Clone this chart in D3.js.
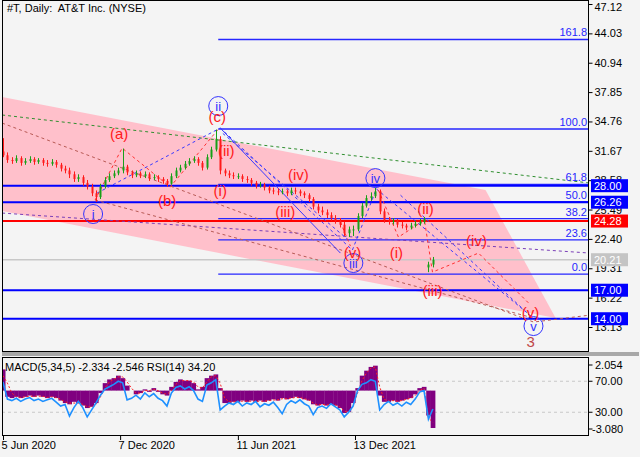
<!DOCTYPE html>
<html><head><meta charset="utf-8">
<script src="https://cdn.jsdelivr.net/npm/d3@7"></script>
<style>
body{margin:0;background:#f4f4f4}
svg{display:block}
text{font-family:Tahoma,"Liberation Sans",Arial,sans-serif}
</style>
</head><body>
<svg id="c" width="640" height="457"></svg>
<script>
// ---------- DATA ----------
const startDate = new Date(2020, 5, 5);
const opens = [31.6,31.2,30.7,30.6,30.9,30.4,30.6,30.8,30.5,30.7,
30.4,30.3,30.5,30.2,29.8,29.6,29.2,28.7,28.9,28.3,
27.9,27.2,26.8,27.9,28.6,29.0,29.3,29.6,30.0,29.4,
29.1,29.3,29.0,29.2,28.8,28.9,28.7,28.5,28.2,29.0,
29.6,29.9,30.3,30.6,30.8,30.4,29.9,31.0,31.8,32.9,
29.6,29.3,29.1,29.0,29.0,28.7,28.6,28.3,28.0,28.1,
27.8,27.5,27.4,27.3,27.4,27.2,27.5,27.4,27.2,27.0,
26.6,25.8,25.4,25.2,24.9,24.6,24.3,23.9,23.0,23.4,
23.4,24.8,25.9,26.7,26.9,27.4,25.3,24.4,24.2,24.3,
23.9,23.8,23.6,23.8,24.0,24.2,19.4,19.7];
const highs = [33.0,31.5,31.0,31.2,31.1,30.9,31.1,31.0,30.9,30.9,
30.7,30.8,30.7,30.4,30.1,29.9,29.5,29.2,29.1,28.6,
28.2,27.5,28.2,28.9,29.3,29.6,29.9,31.9,30.2,29.6,
29.6,29.5,29.5,29.4,29.2,29.1,28.9,28.7,29.3,29.9,
30.2,30.6,30.9,31.1,31.0,30.6,31.3,32.1,33.9,33.2,
29.8,29.6,29.4,29.3,29.2,29.0,28.8,28.5,28.4,28.3,
28.0,27.8,27.7,27.7,27.6,27.8,27.8,27.6,27.4,27.2,
26.8,26.1,25.8,25.5,25.2,24.9,24.6,24.2,23.7,23.8,
25.1,26.2,27.0,27.3,27.8,27.6,25.6,24.7,24.6,24.5,
24.2,24.0,24.1,24.3,24.5,24.7,20.0,20.5];
const lows = [31.0,30.4,30.3,30.4,30.1,30.2,30.4,30.2,30.3,30.1,
30.0,30.1,29.9,29.5,29.3,28.8,28.4,28.4,28.0,27.6,
26.9,26.3,26.6,27.7,28.4,28.8,29.1,29.3,29.1,28.8,
28.9,28.8,28.8,28.5,28.6,28.4,28.2,27.9,28.1,28.8,
29.4,29.7,30.1,30.4,30.1,29.6,29.7,30.8,31.6,29.2,
29.0,28.8,28.7,28.7,28.4,28.3,28.0,27.7,27.8,27.5,
27.2,27.1,27.0,27.1,26.9,27.0,27.1,26.9,26.7,26.3,
25.5,25.1,24.9,24.6,24.3,24.0,23.6,22.7,22.6,22.7,
23.2,24.6,25.7,26.4,26.7,25.0,24.1,23.9,23.9,23.6,
23.5,23.3,23.4,23.6,23.8,24.0,18.9,19.4];
const closes = [31.2,30.7,30.6,30.9,30.4,30.6,30.8,30.5,30.7,30.4,
30.3,30.5,30.2,29.8,29.6,29.2,28.7,28.9,28.3,27.9,
27.2,26.8,27.9,28.6,29.0,29.3,29.6,30.0,29.4,29.1,
29.3,29.0,29.2,28.8,28.9,28.7,28.5,28.2,29.0,29.6,
29.9,30.3,30.6,30.8,30.4,29.9,31.0,31.8,32.9,29.6,
29.3,29.1,29.0,29.0,28.7,28.6,28.3,28.0,28.1,27.8,
27.5,27.4,27.3,27.4,27.2,27.5,27.4,27.2,27.0,26.6,
25.8,25.4,25.2,24.9,24.6,24.3,23.9,23.0,23.4,23.4,
24.8,25.9,26.7,26.9,27.4,25.3,24.4,24.2,24.3,23.9,
23.8,23.6,23.8,24.0,24.2,24.5,19.7,20.21];
const macdHist = [1.7,-0.5,-0.6,-0.5,-0.6,-0.5,-0.4,-0.5,-0.4,-0.5,
-0.6,-0.5,-0.6,-0.8,-1.0,-1.1,-0.9,-1.0,-1.2,-1.4,
-1.3,-1.0,-0.2,0.6,0.9,1.0,1.2,1.0,0.4,0.0,
-0.3,-0.2,0.1,-0.1,0.2,-0.1,-0.3,-0.4,0.3,0.7,
0.9,0.8,0.8,0.6,0.1,0.3,1.0,1.2,1.3,0.2,
-1.0,-1.0,-0.9,-0.9,-0.8,-0.9,-0.8,-0.9,-0.8,-0.9,
-0.8,-0.7,-0.8,-0.6,-0.7,-0.6,-0.5,-0.6,-0.7,-0.8,
-1.1,-1.2,-1.1,-1.2,-1.1,-1.2,-1.4,-1.8,-1.7,-1.0,
0.2,1.2,1.6,1.9,2.0,-0.4,-0.9,-0.9,-0.8,-0.9,
-0.8,-0.7,-0.6,-0.3,0.2,0.3,-2.0,-3.0];
const macdSignal = [1.2,0.6,-0.2,-0.5,-0.55,-0.5,-0.45,-0.45,-0.45,-0.45,
-0.55,-0.5,-0.55,-0.7,-0.9,-1.0,-1.0,-1.0,-1.1,-1.3,
-1.3,-1.1,-0.5,0.2,0.7,0.9,1.1,1.1,0.7,0.2,
-0.2,-0.2,0.0,0.0,0.1,0.0,-0.2,-0.3,0.0,0.5,
0.8,0.8,0.8,0.7,0.3,0.2,0.7,1.1,1.2,0.6,
-0.6,-0.9,-0.9,-0.9,-0.85,-0.85,-0.85,-0.85,-0.85,-0.85,
-0.8,-0.75,-0.75,-0.65,-0.65,-0.6,-0.55,-0.55,-0.65,-0.75,
-1.0,-1.15,-1.1,-1.15,-1.1,-1.15,-1.3,-1.65,-1.7,-1.2,
-0.2,0.8,1.4,1.8,1.9,0.3,-0.7,-0.85,-0.8,-0.85,
-0.8,-0.7,-0.6,-0.4,0.0,0.2,-2.2,-2.546];
const rsi = [69,47,45,48,44,47,49,45,47,44,
46,48,43,38,40,25,36,44,36,24,
33,42,52,60,63,66,70,68,46,48,
52,47,55,50,54,48,45,38,55,62,
64,60,63,58,47,44,65,68,72,33,
38,42,40,44,38,42,40,44,37,41,
39,43,36,28,40,45,42,46,41,38,
27,36,38,35,41,37,33,24,30,38,
58,66,68,72,70,33,40,44,39,42,
38,43,40,47,56,58,21,34.2];

const priceTicks = [47.12,44.03,40.94,37.85,34.76,31.67,28.58,25.49,22.40,19.31,16.22,13.13];
const dateTicks = [new Date(2020,5,5), new Date(2020,11,7), new Date(2021,5,11), new Date(2021,11,13)];
const levelPrices = [28.00, 26.26, 17.00, 14.00];
const redLevel = 24.28;
const lastPrice = 20.21;
const fibRatios = [0, 23.6, 38.2, 50.0, 61.8, 100.0, 161.8];
const fibLow = 18.70, fibHigh = 33.96, fibStartWeek = 48.57;
// annotations: [weekIndex, price]
const channel = [[-0.2,37.33],[108.88,27.54],[124.7,14.07],[-0.2,25.33]];
const greenLine = [[-0.2,35.44],[132.4,28.28]];
const purpleLine = [[-0.2,25.12],[132.4,20.91]];
const brownLines = [[[-0.2,34.59],[119.73,13.65],[132.4,14.38]], [[20.78,26.49],[119.73,14.07]]];
const blueDashed = [[[21.23,27.22],[49.02,34.07]], [[49.02,34.07],[78.84,21.23]], [[49.6,33.5],[77.9,22.3]],
  [[78.84,21.23],[84.26,27.65]], [[84.26,27.65],[119.73,14.07]], [[89.7,27.0],[119.0,14.3]]];
const blueSolid = [[[49.02,34.07],[76.13,20.91]]];
const redDashed = [[[20.78,26.49],[26.88,31.96],[37.72,27.86],[48.79,34.07]],
  [[76.13,24.17],[78.39,21.65]],
  [[84.71,27.54],[89.23,22.59],[95.1,24.38],[96.91,18.91],[107.3,20.91],[118.6,15.65]]];
const blueLabels = [["i",20.33,25.02],["ii",48.57,36.38],["iii",79.06,19.86],["iv",84.03,28.80],["v",119.7,13.23]];
const redLabels = [["(a)",26.2,33.54],["(b)",37.05,26.49],["(c)",48.34,35.23],["(i)",49.02,27.54],["(ii)",50.37,31.75],
  ["(iii)",63.7,25.33],["(iv)",66.64,29.22],["(v)",78.84,21.01],["(i)",88.78,21.01],["(ii)",95.33,25.65],
  ["(iii)",96.91,17.01],["(iv)",106.85,22.28],["(v)",119.05,14.70]];
const degreeLabel = ["3",119.05,11.65];

// ---------- LAYOUT ----------
const L = 2, R = 589, mainTop = 0, mainBot = 352, subTop = 357, subBot = 436;
const svg = d3.select("#c");
const wDate = w => new Date(startDate.getTime() + w * 7 * 86400000);
const x = d3.scaleTime().domain([new Date(2020,5,5), new Date(2021,11,13)]).range([3,355]);
const y = d3.scaleLinear().domain([13.13,47.12]).range([327,4]);
const yM = d3.scaleLinear().domain([-3.08,2.054]).range([429,365]);
const yR = d3.scaleLinear().domain([0,100]).range([435.5,358]);
const px = d => [x(wDate(d[0])), y(d[1])];
const barW = x(wDate(1)) - x(wDate(0));

svg.append("rect").attr("width",640).attr("height",457).attr("fill","#f4f4f4");
const defs = svg.append("defs");
defs.append("clipPath").attr("id","cm").append("rect").attr("x",L).attr("y",mainTop).attr("width",R-L).attr("height",mainBot-mainTop);
defs.append("clipPath").attr("id","cs").append("rect").attr("x",L).attr("y",subTop).attr("width",R-L).attr("height",subBot-subTop);

const g = svg.append("g").attr("clip-path","url(#cm)");
g.append("path").attr("d", d3.line()(channel.map(px)) + "Z").attr("fill","#ffc0cb");
g.append("line").attr("x1",L).attr("x2",R).attr("y1",y(lastPrice)).attr("y2",y(lastPrice)).attr("stroke","#c8c8c8").attr("stroke-width",1.5);
fibRatios.forEach(r => {
  const p = fibLow + r/100*(fibHigh-fibLow);
  g.append("line").attr("x1",x(wDate(fibStartWeek))).attr("x2",R).attr("y1",y(p)).attr("y2",y(p))
    .attr("stroke","#2626ff").attr("stroke-width", r >= 100 ? 1.5 : 1.2);
});
levelPrices.forEach(p => g.append("line").attr("x1",L).attr("x2",R).attr("y1",y(p)).attr("y2",y(p)).attr("stroke","#0000ff").attr("stroke-width",2));
g.append("line").attr("x1",L).attr("x2",R).attr("y1",y(redLevel)).attr("y2",y(redLevel)).attr("stroke","#ff0000").attr("stroke-width",2);

const line = d3.line();
const dashed = (pts, color, dash) => g.append("path").attr("d", line(pts.map(px))).attr("fill","none")
  .attr("stroke", color).attr("stroke-width",1).attr("stroke-dasharray", dash || "3,3");
dashed(greenLine, "#2f8f2f");
dashed(purpleLine, "#7b3fb8");
brownLines.forEach(l => dashed(l, "#b85a55"));
blueDashed.forEach(l => dashed(l, "#3a3aff"));
blueSolid.forEach(l => dashed(l, "#3a3aff", "none"));
redDashed.forEach(l => dashed(l, "#ff3030"));

// candles
const cg = g.append("g");
closes.forEach((c, i) => {
  const xi = Math.round(x(wDate(i))) + 0.5, o = opens[i];
  const col = c >= o ? "#18a018" : "#ff1a1a";
  cg.append("line").attr("x1",xi).attr("x2",xi).attr("y1",y(highs[i])).attr("y2",y(lows[i])).attr("stroke",col).attr("stroke-width",1);
  const top = y(Math.max(o,c)), bot = y(Math.min(o,c));
  cg.append("rect").attr("x",xi-1).attr("width",2).attr("y",top).attr("height",Math.max(1,bot-top)).attr("fill",col);
});

blueLabels.forEach(([t,w,p]) => {
  const [cx,cy] = px([w,p]);
  g.append("circle").attr("cx",cx).attr("cy",cy).attr("r",9.5).attr("fill","none").attr("stroke","#3333ff").attr("stroke-width",1);
  g.append("text").attr("x",cx).attr("y",cy).attr("text-anchor","middle").attr("dominant-baseline","central")
    .attr("font-size",13).attr("fill","#3333ff").text(t);
});
redLabels.forEach(([t,w,p]) => {
  const [cx,cy] = px([w,p]);
  g.append("text").attr("x",cx).attr("y",cy).attr("text-anchor","middle").attr("dominant-baseline","central")
    .attr("font-size",15).attr("fill","#ff1a1a").text(t);
});
{
  const [cx,cy] = px([degreeLabel[1],degreeLabel[2]]);
  g.append("text").attr("x",cx).attr("y",cy).attr("text-anchor","middle").attr("dominant-baseline","central")
    .attr("font-size",15).attr("fill","#c04848").text(degreeLabel[0]);
}
fibRatios.forEach(r => {
  const p = fibLow + r/100*(fibHigh-fibLow);
  svg.append("text").attr("x",587).attr("y",y(p)-3).attr("text-anchor","end").attr("font-size",11).attr("fill","#2626ff").text(r.toFixed(1));
});

svg.append("rect").attr("x",L+0.5).attr("y",mainTop+0.5).attr("width",R-L-1).attr("height",mainBot-mainTop-1).attr("fill","none").attr("stroke","#000");
svg.append("rect").attr("x",L).attr("y",mainBot).attr("width",R-L+50).attr("height",subTop-mainBot-1).attr("fill","#a8a8a8");

const ax = svg.append("g").attr("transform",`translate(${R-0.5},0)`)
  .call(d3.axisRight(y).tickValues(priceTicks).tickSize(4).tickFormat(d3.format(".2f")));
ax.select(".domain").remove();
ax.selectAll("text").attr("font-size",11).attr("fill","#000").attr("x",6).style("font-family",'Tahoma,"Liberation Sans",Arial,sans-serif');
ax.selectAll("line").attr("stroke","#000");
ax.selectAll(".tick").filter(d => d === 47.12).select("text").attr("dy","0.55em");

const box = (p, bg, fg) => {
  const by = y(p);
  svg.append("rect").attr("x",591).attr("y",by-6.5).attr("width",37).attr("height",13).attr("fill",bg);
  svg.append("text").attr("x",594).attr("y",by).attr("dominant-baseline","central").attr("font-size",11).attr("fill",fg).text(p.toFixed(2));
};
levelPrices.forEach(p => box(p, "#0000ff", "#fff"));
box(redLevel, "#ff0000", "#fff");
box(lastPrice, "#c4c4c4", "#fff");

svg.append("text").attr("x",7).attr("y",12).attr("font-size",11).attr("fill","#000").style("white-space","pre").text("#T, Daily:  AT&T Inc. (NYSE)");

// ---------- SUB PANEL ----------
const s = svg.append("g").attr("clip-path","url(#cs)");
[70,30].forEach(v => s.append("line").attr("x1",L).attr("x2",R).attr("y1",yR(v)).attr("y2",yR(v)).attr("stroke","#c8c8c8").attr("stroke-dasharray","3,3"));
macdHist.forEach((v,i) => {
  const xi = x(wDate(i));
  s.append("rect").attr("x",xi-barW/2).attr("width",barW+0.3).attr("y",Math.min(yM(v),yM(0))).attr("height",Math.abs(yM(v)-yM(0))).attr("fill","#800080");
});
s.append("path").attr("d", d3.line().x((d,i)=>x(wDate(i))).y(d=>yM(d))(macdSignal)).attr("fill","none").attr("stroke","#ff2020").attr("stroke-width",1).attr("stroke-dasharray","2,2");
s.append("path").attr("d", d3.line().x((d,i)=>x(wDate(i))).y(d=>yR(d))(rsi)).attr("fill","none").attr("stroke","#1e90ff").attr("stroke-width",1.6);
svg.append("rect").attr("x",L+0.5).attr("y",subTop+0.5).attr("width",R-L-1).attr("height",subBot-subTop-1).attr("fill","none").attr("stroke","#000");
svg.append("text").attr("x",5).attr("y",371).attr("font-size",11).attr("fill","#000").text("MACD(5,34,5) -2.334 -2.546 RSI(14) 34.20");
const subLabels = [[yM(2.054),"2.054"],[yR(70),"70.00"],[yR(30),"30.00"],[yM(-3.08),"-3.080"]];
subLabels.forEach(([yy,t]) => {
  svg.append("line").attr("x1",R-0.5).attr("x2",R+3.5).attr("y1",yy).attr("y2",yy).attr("stroke","#000");
  svg.append("text").attr("x",t[0]==="-"?592:595).attr("y",yy).attr("dominant-baseline","central").attr("font-size",11).attr("fill","#000").text(t);
});

const bx = svg.append("g").attr("transform",`translate(0,${subBot})`)
  .call(d3.axisBottom(x).tickValues(dateTicks).tickSize(4).tickFormat(d3.timeFormat("%-d %b %Y")));
bx.select(".domain").remove();
bx.selectAll("line").attr("stroke","#000");
bx.selectAll("text").attr("font-size",11).attr("fill","#000").attr("text-anchor","start").attr("dx",-2).attr("y",5).attr("dy","0.71em")
  .style("font-family",'Tahoma,"Liberation Sans",Arial,sans-serif');
</script>
</body></html>
